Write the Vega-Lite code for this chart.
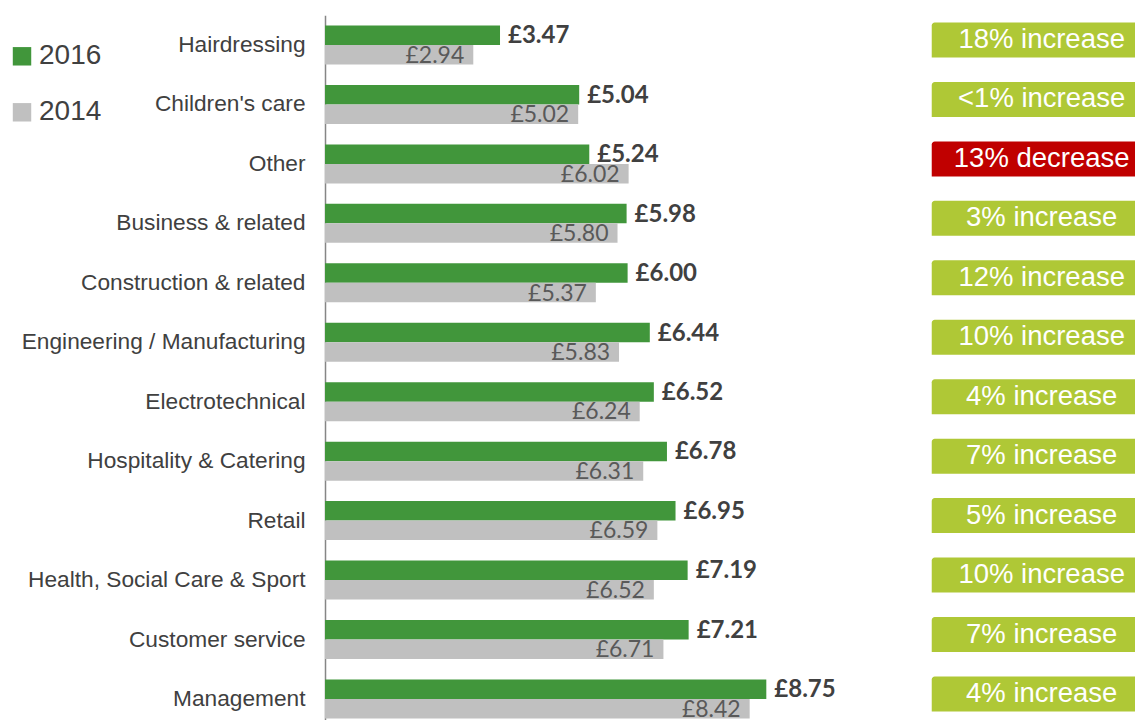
{
  "$schema": "https://vega.github.io/schema/vega-lite/v6.json",
  "width": 810,
  "height": 713.4,
  "autosize": {"type": "none"},
  "padding": {"left": 325, "top": 15.3, "right": 0, "bottom": 0},
  "background": "white",
  "config": {
    "view": {"stroke": null},
    "font": "Liberation Sans"
  },
  "datasets": {
    "bars": [
      {"category": "Hairdressing", "year": "2016", "value": 3.47, "label": "£3.47"},
      {"category": "Hairdressing", "year": "2014", "value": 2.94, "label": "£2.94"},
      {"category": "Children's care", "year": "2016", "value": 5.04, "label": "£5.04"},
      {"category": "Children's care", "year": "2014", "value": 5.02, "label": "£5.02"},
      {"category": "Other", "year": "2016", "value": 5.24, "label": "£5.24"},
      {"category": "Other", "year": "2014", "value": 6.02, "label": "£6.02"},
      {"category": "Business & related", "year": "2016", "value": 5.98, "label": "£5.98"},
      {"category": "Business & related", "year": "2014", "value": 5.80, "label": "£5.80"},
      {"category": "Construction & related", "year": "2016", "value": 6.00, "label": "£6.00"},
      {"category": "Construction & related", "year": "2014", "value": 5.37, "label": "£5.37"},
      {"category": "Engineering / Manufacturing", "year": "2016", "value": 6.44, "label": "£6.44"},
      {"category": "Engineering / Manufacturing", "year": "2014", "value": 5.83, "label": "£5.83"},
      {"category": "Electrotechnical", "year": "2016", "value": 6.52, "label": "£6.52"},
      {"category": "Electrotechnical", "year": "2014", "value": 6.24, "label": "£6.24"},
      {"category": "Hospitality & Catering", "year": "2016", "value": 6.78, "label": "£6.78"},
      {"category": "Hospitality & Catering", "year": "2014", "value": 6.31, "label": "£6.31"},
      {"category": "Retail", "year": "2016", "value": 6.95, "label": "£6.95"},
      {"category": "Retail", "year": "2014", "value": 6.59, "label": "£6.59"},
      {"category": "Health, Social Care & Sport", "year": "2016", "value": 7.19, "label": "£7.19"},
      {"category": "Health, Social Care & Sport", "year": "2014", "value": 6.52, "label": "£6.52"},
      {"category": "Customer service", "year": "2016", "value": 7.21, "label": "£7.21"},
      {"category": "Customer service", "year": "2014", "value": 6.71, "label": "£6.71"},
      {"category": "Management", "year": "2016", "value": 8.75, "label": "£8.75"},
      {"category": "Management", "year": "2014", "value": 8.42, "label": "£8.42"}
    ],
    "badges": [
      {"category": "Hairdressing", "change": "18% increase", "kind": "increase"},
      {"category": "Children's care", "change": "<1% increase", "kind": "increase"},
      {"category": "Other", "change": "13% decrease", "kind": "decrease"},
      {"category": "Business & related", "change": "3% increase", "kind": "increase"},
      {"category": "Construction & related", "change": "12% increase", "kind": "increase"},
      {"category": "Engineering / Manufacturing", "change": "10% increase", "kind": "increase"},
      {"category": "Electrotechnical", "change": "4% increase", "kind": "increase"},
      {"category": "Hospitality & Catering", "change": "7% increase", "kind": "increase"},
      {"category": "Retail", "change": "5% increase", "kind": "increase"},
      {"category": "Health, Social Care & Sport", "change": "10% increase", "kind": "increase"},
      {"category": "Customer service", "change": "7% increase", "kind": "increase"},
      {"category": "Management", "change": "4% increase", "kind": "increase"}
    ]
  },
  "encoding": {
    "y": {
      "field": "category",
      "type": "nominal",
      "sort": ["Hairdressing", "Children's care", "Other", "Business & related", "Construction & related", "Engineering / Manufacturing", "Electrotechnical", "Hospitality & Catering", "Retail", "Health, Social Care & Sport", "Customer service", "Management"],
      "scale": {"paddingInner": 0.344, "paddingOuter": 0.172},
      "axis": {
        "title": null,
        "ticks": false,
        "labelPadding": 20,
        "labelFontSize": 22.7,
        "labelLimit": 0,
        "labelColor": "#404040",
        "labelFont": "Liberation Sans",
        "domainColor": "#868686",
        "domainWidth": 1.5,
        "grid": false
      }
    }
  },
  "layer": [
    {
      "data": {"name": "bars"},
      "mark": {"type": "bar"},
      "encoding": {
        "yOffset": {"field": "year", "type": "nominal", "sort": ["2016", "2014"], "scale": {"paddingInner": 0, "paddingOuter": 0}},
        "x": {"field": "value", "type": "quantitative", "scale": {"domain": [0, 16.06], "nice": false, "zero": true}, "axis": null},
        "color": {
          "field": "year",
          "type": "nominal",
          "scale": {"domain": ["2016", "2014"], "range": ["#41963B", "#C0C0C0"]},
          "legend": {
            "title": null,
            "orient": "none",
            "legendX": -317,
            "legendY": 27,
            "symbolType": "square",
            "symbolSize": 340,
            "symbolStrokeWidth": 0,
            "labelFontSize": 28,
            "labelColor": "#404040",
            "labelFont": "Liberation Sans",
            "labelOffset": 3,
            "rowPadding": 28,
            "padding": 0
          }
        }
      }
    },
    {
      "data": {"name": "bars"},
      "transform": [{"filter": "datum.year === '2016'"}],
      "mark": {"type": "text", "align": "left", "baseline": "middle", "dx": 8, "dy": 1, "font": "Lato", "fontWeight": "bold", "fontSize": 24, "color": "#404040"},
      "encoding": {
        "yOffset": {"field": "year", "type": "nominal", "sort": ["2016", "2014"]},
        "x": {"field": "value", "type": "quantitative"},
        "text": {"field": "label"}
      }
    },
    {
      "data": {"name": "bars"},
      "transform": [{"filter": "datum.year === '2014'"}],
      "mark": {"type": "text", "align": "right", "baseline": "middle", "dx": -9, "dy": 1, "font": "Lato", "fontSize": 23, "color": "#595959"},
      "encoding": {
        "yOffset": {"field": "year", "type": "nominal", "sort": ["2016", "2014"]},
        "x": {"field": "value", "type": "quantitative"},
        "text": {"field": "label"}
      }
    },
    {
      "data": {"name": "badges"},
      "mark": {"type": "bar", "size": 35, "yOffset": -5, "cornerRadiusTopLeft": 3},
      "encoding": {
        "x": {"datum": 12.03, "type": "quantitative"},
        "x2": {"datum": 16.5},
        "color": {
          "condition": {"test": "datum.kind === 'decrease'", "value": "#C00000"},
          "value": "#AFC836"
        }
      }
    },
    {
      "data": {"name": "badges"},
      "mark": {"type": "text", "align": "center", "baseline": "middle", "dy": -5, "font": "Liberation Sans", "fontSize": 27.5, "color": "white"},
      "encoding": {
        "x": {"datum": 14.21, "type": "quantitative"},
        "text": {"field": "change"}
      }
    }
  ]
}
